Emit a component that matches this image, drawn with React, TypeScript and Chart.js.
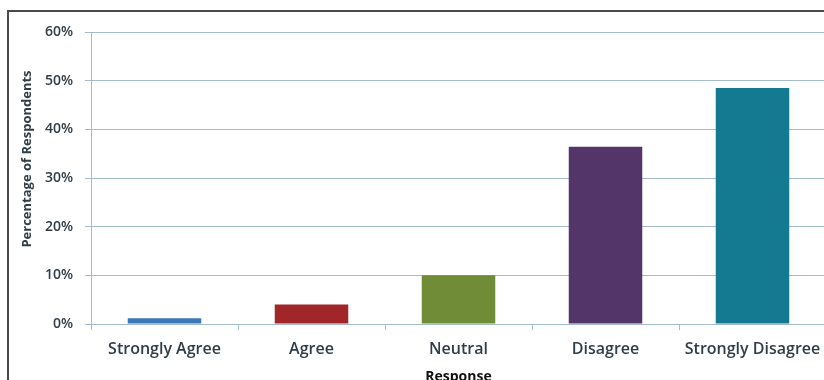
import React, { useEffect, useRef } from "react";
import { Chart, registerables } from "chart.js";

Chart.register(...registerables);

const categories = ["Strongly Agree", "Agree", "Neutral", "Disagree", "Strongly Disagree"];
const percentages = [1.2, 4.0, 10.0, 36.4, 48.5];
const barColors = ["#3a78b8", "#a0262a", "#718c36", "#54356a", "#137a92"];
const yMin = 0;
const yMax = 60;
const yStep = 10;
const yAxisTitle = "Percentage of Respondents";
const xAxisTitle = "Response";

const textColor = "#2f3d47";
const gridColor = "#a3bccb";
const fontFamily = "'Open Sans', 'DejaVu Sans', sans-serif";

const yTitlePlugin = {
  id: "yTitlePlugin",
  afterDraw(chart: any) {
    const { ctx, chartArea } = chart;
    ctx.save();
    ctx.translate(27, (chartArea.top + chartArea.bottom) / 2 - 19);
    ctx.rotate(-Math.PI / 2);
    ctx.font = `bold 13px ${fontFamily}`;
    ctx.fillStyle = textColor;
    ctx.textAlign = "center";
    ctx.textBaseline = "middle";
    ctx.fillText(yAxisTitle, 0, 0);
    ctx.restore();
  },
};

export default function App() {
  const canvasRef = useRef<HTMLCanvasElement | null>(null);

  useEffect(() => {
    if (!canvasRef.current) return;
    const chart = new Chart(canvasRef.current, {
      type: "bar",
      data: {
        labels: categories,
        datasets: [
          {
            data: percentages,
            backgroundColor: barColors,
            borderWidth: 0,
            categoryPercentage: 1,
            barPercentage: 0.5,
          },
        ],
      },
      options: {
        animation: false,
        responsive: false,
        maintainAspectRatio: false,
        layout: { padding: { top: 32, left: 0, right: 0, bottom: 0 } },
        plugins: {
          legend: { display: false },
          tooltip: { enabled: false },
          title: { display: false },
        },
        scales: {
          x: {
            grid: {
              display: true,
              drawOnChartArea: false,
              drawTicks: true,
              tickLength: 6,
              color: gridColor,
              offset: true,
            },
            border: { display: true, color: gridColor, width: 1 },
            ticks: {
              color: textColor,
              font: { family: fontFamily, size: 16, weight: "600" },
              padding: 10,
              maxRotation: 0,
              autoSkip: false,
            },
            title: {
              display: true,
              text: xAxisTitle,
              color: "#111",
              font: { family: fontFamily, size: 14, weight: "bold" },
              padding: { top: 0, bottom: 15 },
            },
            afterFit(scale: any) {
              scale.height = 76;
              scale.paddingLeft = 0;
              scale.paddingRight = 0;
            },
          },
          y: {
            min: yMin,
            max: yMax,
            grid: {
              color: gridColor,
              tickLength: 6,
              drawTicks: true,
            },
            border: { display: true, color: gridColor, width: 1 },
            ticks: {
              stepSize: yStep,
              color: textColor,
              font: { family: fontFamily, size: 14, weight: "600" },
              padding: 12,
              callback: (v: any) => `${v}%`,
            },
            afterFit(scale: any) {
              scale.width = 91;
            },
          },
        },
      },
      plugins: [yTitlePlugin],
    });
    return () => chart.destroy();
  }, []);

  return (
    <div
      style={{
        position: "fixed",
        left: 0,
        top: 0,
        width: 824,
        height: 380,
        overflow: "hidden",
        background: "#fff",
      }}
    >
      <canvas
        ref={canvasRef}
        width={826}
        height={400}
        style={{ position: "absolute", left: 0, top: 0, width: 826, height: 400 }}
      />
      <div
        style={{
          position: "absolute",
          left: 7,
          top: 10,
          width: 830,
          height: 400,
          borderLeft: "2px solid #4a4a4a",
          borderTop: "2px solid #4a4a4a",
          pointerEvents: "none",
        }}
      />
    </div>
  );
}
